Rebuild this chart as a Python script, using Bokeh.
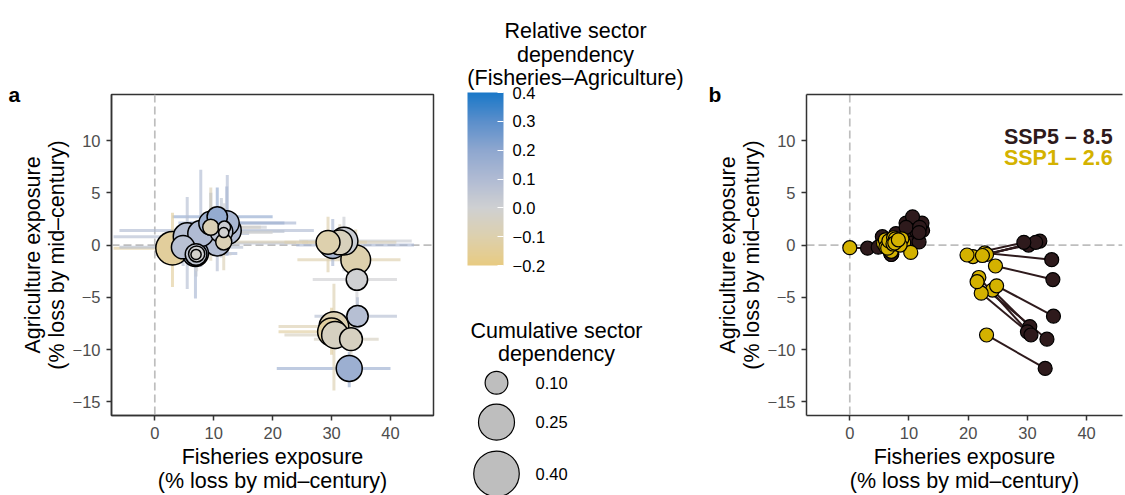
import numpy as np
from bokeh.plotting import figure
from bokeh.models import (ColumnDataSource, LinearColorMapper, ColorBar, FixedTicker,
                          Span, Label, CustomJSTickFormatter, Range1d, LinearAxis)
from bokeh.layouts import row
from bokeh.transform import transform
from bokeh.embed import file_html
from bokeh.resources import INLINE

FONT = "Liberation Sans"

# ---------------- data ----------------
fish_ssp5 = [3.0, 5.5, 4.8, 6.9, 7.0, 7.1, 7.0, 7.8, 9.5, 9.5, 11.8, 11.7, 11.7, 12.3, 10.6, 10.6, 12.2, 11.3,
             29.4, 30.2, 31.4, 32.1, 34.1, 34.3, 34.4, 30.4, 30.0, 30.6, 33.3, 33.0]
agri_ssp5 = [-0.3, 0.8, -0.2, -0.8, -0.9, -0.85, -0.9, 1.1, 2.1, 1.7, 1.7, 1.2, 0.3, 1.4, 0.2, 2.7, 2.1, 1.3,
             0.26, 0.0, 0.26, 0.38, -1.4, -3.3, -6.8, -7.8, -8.3, -8.6, -9.0, -11.8]
fish_ssp1 = [0.0, 5.7, 6.1, 7.0, 6.6, 7.7, 8.2, 9.1, 10.3, 8.8, 7.3, 7.6, 8.5, 8.0, 6.0, 7.4, 7.9, 6.4,
             19.8, 20.8, 22.4, 23.1, 22.8, 24.6, 24.8, 24.1, 22.2, 21.8, 21.5, 23.1]
agri_ssp1 = [-0.25, 0.16, -0.2, -0.6, 0.4, 0.6, 0.5, 0.2, -0.7, 0.6, 0.1, 0.2, 0.0, 0.3, 0.5, 0.7, 0.4, -0.3,
             -0.95, -1.1, -1.0, -0.9, -0.75, -2.0, -3.9, -4.3, -4.6, -3.1, -3.5, -8.6]
rel_dep = [-0.14, 0.08, 0.07, 0.12, 0.05, 0.0, -0.02, 0.10, 0.15, -0.08, 0.02, -0.01, -0.08, 0.10, 0.09, 0.18, 0.12, 0.06,
           -0.10, 0.12, -0.06, 0.02, -0.10, 0.0, 0.08, -0.09, -0.13, -0.05, -0.05, 0.16]
cum_dep = [0.215, 0.15, 0.105, 0.13, 0.09, 0.05, 0.02, 0.13, 0.11, 0.05, 0.03, 0.02, 0.05, 0.15, 0.13, 0.08, 0.12, 0.10,
           0.11, 0.14, 0.12, 0.15, 0.17, 0.088, 0.088, 0.17, 0.15, 0.14, 0.10, 0.13]
fish_lo = [-7.0, -7.0, -6.0, 1.0, 0.0, 2.0, 3.0, 2.0, 4.0, 5.0, 6.0, 6.0, 5.0, -6.0, 4.0, 3.0, 6.0, 4.0,
           22.0, 24.0, 25.0, 24.5, 24.2, 26.8, 27.1, 21.0, 21.0, 22.0, 27.0, 20.7]
fish_hi = [9.5, 14.0, 15.0, 14.0, 12.0, 13.0, 11.0, 16.0, 22.0, 18.0, 19.0, 20.0, 26.0, 27.0, 24.0, 20.0, 24.0, 22.0,
           36.0, 44.0, 41.0, 43.6, 41.7, 41.1, 41.1, 33.5, 32.0, 33.0, 38.0, 40.0]
agri_lo = [-4.0, -4.2, -2.0, -5.1, -3.0, -2.5, -2.0, -2.1, -1.0, -1.5, -0.5, -0.8, -2.4, -1.0, -2.5, 0.5, -1.0, -1.2,
           -2.6, -2.0, -1.5, -2.5, -4.0, -6.0, -8.0, -13.9, -10.5, -10.0, -11.0, -13.6]
agri_hi = [3.1, 4.6, 1.8, 1.2, 2.0, 1.0, 0.5, 7.2, 5.0, 5.5, 4.0, 3.5, 3.0, 6.7, 3.0, 5.5, 5.6, 4.5,
           2.7, 2.5, 2.0, 2.7, 1.5, -1.0, -5.0, -3.7, -6.0, -6.5, -7.0, -10.2]

x_ticks = [0, 10, 20, 30, 40]
y_ticks = [-15, -10, -5, 0, 5, 10]
cbar_ticks = [-0.2, -0.1, 0.0, 0.1, 0.2, 0.3, 0.4]
size_breaks = [0.10, 0.25, 0.40]
size_labels = ["0.10", "0.25", "0.40"]
scenario_labels = ["SSP5 \u2013 8.5", "SSP1 \u2013 2.6"]
panel_tags = ["a", "b"]

# ---------------- styles ----------------
DARK = "#2E1A1C"
YEL = "#D4B200"
PX_PER_SQRT = 72.0   # marker diameter in px = 72*sqrt(value)
H = 495

stops_v = [-0.2, -0.1, 0.0, 0.1, 0.2, 0.3, 0.4]
stops_c = ["#E8CB82", "#DDD0AE", "#CFD0D2", "#B0BBD3", "#8EA7CF", "#5B8FCB", "#1A78C8"]


def hex2rgb(h):
    return [int(h[i:i + 2], 16) for i in (1, 3, 5)]


rgbs = np.array([hex2rgb(c) for c in stops_c], dtype=float)
vv = np.linspace(-0.2, 0.4, 256)
palette = []
for v in vv:
    r, g, b = (np.interp(v, stops_v, rgbs[:, k]) for k in range(3))
    palette.append("#%02x%02x%02x" % (int(round(r)), int(round(g)), int(round(b))))

mapper = LinearColorMapper(palette=palette, low=-0.2, high=0.4)

order = np.argsort(-np.array(cum_dep))
src = ColumnDataSource(dict(
    fx=[fish_ssp5[i] for i in order], ay=[agri_ssp5[i] for i in order],
    fx1=[fish_ssp1[i] for i in order], ay1=[agri_ssp1[i] for i in order],
    rel=[rel_dep[i] for i in order],
    size=[PX_PER_SQRT * np.sqrt(cum_dep[i]) for i in order],
    flo=[fish_lo[i] for i in order], fhi=[fish_hi[i] for i in order],
    alo=[agri_lo[i] for i in order], ahi=[agri_hi[i] for i in order],
))

neg_fmt = CustomJSTickFormatter(code=r"return (tick < 0 ? '\u2212' : '') + Math.abs(tick);")
cb_fmt = CustomJSTickFormatter(code=r"return (tick < -1e-9 ? '\u2212' : '') + Math.abs(tick).toFixed(1);")

XLAB = "Fisheries exposure\n(% loss by mid\u2013century)"
YLAB = "Agriculture exposure\n(% loss by mid\u2013century)"


def style_axes(p):
    p.xgrid.visible = False
    p.ygrid.visible = False
    p.xaxis.ticker = FixedTicker(ticks=x_ticks)
    p.yaxis.ticker = FixedTicker(ticks=y_ticks)
    p.yaxis.formatter = neg_fmt
    p.xaxis.formatter = neg_fmt
    for ax in (p.xaxis, p.yaxis):
        ax.axis_line_color = "#333333"
        ax.axis_line_width = 1.5
        ax.major_tick_line_color = "#333333"
        ax.major_tick_line_width = 1.5
        ax.major_tick_out = 5
        ax.major_tick_in = 0
        ax.minor_tick_line_color = None
        ax.major_label_text_font = FONT
        ax.major_label_text_font_size = "16.5px"
        ax.major_label_text_color = "#4D4D4D"
        ax.axis_label_text_font = FONT
        ax.axis_label_text_font_size = "21.5px"
        ax.axis_label_text_font_style = "normal"
        ax.axis_label_text_color = "black"
        ax.axis_label_text_line_height = 1.0
    p.xaxis.axis_label = XLAB
    p.yaxis.axis_label = YLAB
    p.xaxis.major_label_standoff = 6
    p.yaxis.major_label_standoff = 6
    p.xaxis.axis_label_standoff = 3
    p.yaxis.axis_label_standoff = 1
    for dim in ("height", "width"):
        p.add_layout(Span(location=0, dimension=dim, line_color="#BEBEBE", line_dash="8 4",
                          line_width=1.7, level="underlay"))


def panel_tag(p, txt, offset):
    p.title.text = txt
    p.title.align = "left"
    p.title.offset = offset
    p.title.vertical_align = "bottom"
    p.title.standoff = -22
    p.title.text_font = FONT
    p.title.text_font_size = "21px"
    p.title.text_font_style = "bold"
    p.title.text_color = "black"


# ---------------- panel a ----------------
pa = figure(width=443, height=H, x_range=Range1d(-7.35, 47.3), y_range=Range1d(-16.3, 14.4),
            output_backend="svg", toolbar_location=None,
            min_border_left=111, min_border_right=10, min_border_top=94, min_border_bottom=79)
pa.outline_line_color = "#333333"
pa.outline_line_width = 1.5
style_axes(pa)
pa.segment(x0="flo", y0="ay", x1="fhi", y1="ay", source=src, line_width=3, line_alpha=0.65,
           line_color=transform("rel", mapper))
pa.segment(x0="fx", y0="alo", x1="fx", y1="ahi", source=src, line_width=3, line_alpha=0.65,
           line_color=transform("rel", mapper))
pa.scatter(x="fx", y="ay", size="size", source=src, fill_color=transform("rel", mapper),
           line_color="black", line_width=1.5)
panel_tag(pa, panel_tags[0], -103)

# ---------------- legends (middle) ----------------
pm = figure(width=257, height=H, x_range=Range1d(0, 257), y_range=Range1d(0, H),
            output_backend="svg", toolbar_location=None, x_axis_type=None, y_axis_type=None,
            min_border_left=0, min_border_right=0, min_border_top=0, min_border_bottom=0)
pm.frame_align = False
pm.outline_line_color = None
pm.xgrid.visible = False
pm.ygrid.visible = False
cb = ColorBar(color_mapper=mapper, location=(24, 230), width=36, height=173, padding=0,
              ticker=FixedTicker(ticks=cbar_ticks), formatter=cb_fmt,
              major_label_text_font=FONT, major_label_text_font_size="16.5px",
              major_label_text_color="black", major_tick_line_color="white",
              major_tick_in=6, major_tick_out=0, minor_tick_line_color=None,
              bar_line_color=None, border_line_color=None, background_fill_color=None,
              label_standoff=9, title=None)
pm.add_layout(cb)
for txt, yb in zip(["Relative sector", "dependency", "(Fisheries\u2013Agriculture)"], [464.5, 441, 418]):
    pm.add_layout(Label(x=132, y=yb, text=txt, text_align="center", text_baseline="alphabetic",
                        text_font=FONT, text_font_size="21.5px", text_color="black"))
for txt, yb in zip(["Cumulative sector", "dependency"], [165, 142]):
    pm.add_layout(Label(x=113, y=yb, text=txt, text_align="center", text_baseline="alphabetic",
                        text_font=FONT, text_font_size="21.5px", text_color="black"))
leg_y = [112.7, 73.3, 21.7]
leg_src = ColumnDataSource(dict(x=[53] * 3, y=leg_y,
                                size=[PX_PER_SQRT * np.sqrt(v) for v in size_breaks],
                                lab=size_labels))
pm.scatter(x="x", y="y", size="size", source=leg_src, fill_color="#BEBEBE",
           line_color="black", line_width=1.2)
for lab, yy in zip(size_labels, leg_y):
    pm.add_layout(Label(x=92, y=yy, text=lab, text_baseline="middle", text_font=FONT,
                        text_font_size="16.5px", text_color="black"))

# ---------------- panel b ----------------
pb = figure(width=425, height=H, x_range=Range1d(-7.31, 46.06), y_range=Range1d(-16.3, 14.4),
            output_backend="svg", toolbar_location=None,
            min_border_left=106, min_border_right=3, min_border_top=94, min_border_bottom=79)
pb.outline_line_color = None
style_axes(pb)
top_ax = LinearAxis(ticker=FixedTicker(ticks=[]), axis_line_color="#333333", axis_line_width=1.5,
                    major_tick_line_color=None, minor_tick_line_color=None,
                    major_tick_out=0, minor_tick_out=0, major_label_standoff=0,
                    major_label_text_color=None)
pb.add_layout(top_ax, "above")
pb.segment(x0="fx1", y0="ay1", x1="fx", y1="ay", source=src, line_color=DARK, line_width=2)
pb.scatter(x="fx", y="ay", source=src, size=14, fill_color=DARK, line_color="black", line_width=1.2)
pb.scatter(x="fx1", y="ay1", source=src, size=14, fill_color=YEL, line_color="black", line_width=1.2)
for txt, col, yy in zip(scenario_labels, [DARK, YEL], [10.3, 8.3]):
    pb.add_layout(Label(x=44.4, y=yy, text=txt, text_align="right", text_baseline="middle",
                        text_font=FONT, text_font_size="21.5px", text_font_style="bold",
                        text_color=col))
panel_tag(pb, panel_tags[1], -98)

layout = row(pa, pm, pb)
open("out.html", "w", encoding="utf-8").write(file_html(layout, INLINE))
